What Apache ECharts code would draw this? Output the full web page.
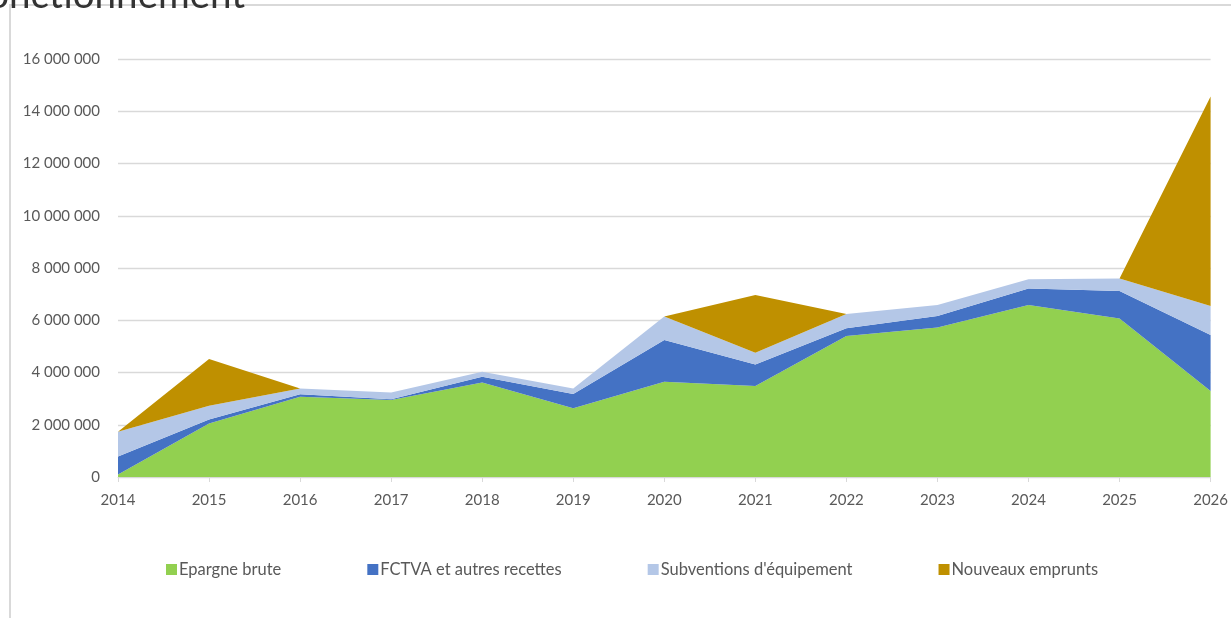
<!DOCTYPE html>
<html>
<head>
<meta charset="utf-8">
<script src="https://cdn.jsdelivr.net/npm/echarts@6/dist/echarts.min.js"></script>
<style>
html,body{margin:0;padding:0;background:#fff;}
#chart{width:1231px;height:618px;}
</style>
</head>
<body>
<div id="chart"></div>
<script>
var years = ['2014','2015','2016','2017','2018','2019','2020','2021','2022','2023','2024','2025','2026'];
var epargneBrute = [100000, 2050000, 3070000, 2950000, 3620000, 2630000, 3650000, 3480000, 5400000, 5720000, 6580000, 6070000, 3290000];
var fctva = [680000, 150000, 100000, 30000, 220000, 550000, 1590000, 830000, 290000, 440000, 640000, 1050000, 2150000];
var subventions = [950000, 530000, 220000, 250000, 190000, 210000, 900000, 450000, 550000, 420000, 350000, 480000, 1110000];
var emprunts = [0, 1790000, 0, 0, 0, 0, 0, 2210000, 0, 0, 0, 0, 8010000];
var seriesNames = ['Epargne brute', 'FCTVA et autres recettes', "Subventions d'équipement", 'Nouveaux emprunts'];
var yTicks = {min: 0, max: 16000000, interval: 2000000};

var colors = ['#92D050', '#4472C4', '#B4C7E7', '#BF9000'];
var font = 'Lato, "Open Sans", sans-serif';

function fmt(v){ return String(v).replace(/\B(?=(\d{3})+(?!\d))/g, ' '); }

function mk(name, data, i){
  return {
    name: name, type: 'line', stack: 'total', data: data,
    symbol: 'none', showSymbol: false,
    lineStyle: {width: 0},
    areaStyle: {color: colors[i], opacity: 1},
    itemStyle: {color: colors[i]},
    z: 2
  };
}

var chart = echarts.init(document.getElementById('chart'));
chart.setOption({
  animation: false,
  backgroundColor: '#fff',
  grid: {left: 118, right: 18, top: 59, bottom: 141, containLabel: false},
  legend: {
    data: seriesNames,
    left: 161, top: 556,
    icon: 'rect', itemWidth: 11, itemHeight: 11, itemGap: 86,
    textStyle: {color: '#595959', fontSize: 16.5, fontFamily: font, padding: [0,0,0,-3]}
  },
  xAxis: {
    type: 'category', data: years, boundaryGap: false,
    axisLine: {lineStyle: {color: '#d9d9d9', width: 1}},
    axisTick: {show: true, length: 5, lineStyle: {color: '#d9d9d9'}},
    axisLabel: {color: '#595959', fontSize: 15, fontFamily: font, margin: 16},
    splitLine: {show: false}
  },
  yAxis: {
    type: 'value', min: yTicks.min, max: yTicks.max, interval: yTicks.interval,
    axisLine: {show: false}, axisTick: {show: false},
    axisLabel: {color: '#595959', fontSize: 15, fontFamily: font, margin: 18, formatter: fmt},
    splitLine: {lineStyle: {color: '#d9d9d9', width: 1.3}}
  },
  graphic: [
    {type: 'rect', shape: {x: 10, y: 5, width: 1400, height: 800}, style: {fill: 'none', stroke: '#d9d9d9', lineWidth: 2}, z: 0, silent: true},
    {type: 'text', left: -33, top: -24, style: {text: 'Fonctionnement', fill: '#333333', font: '38.6px ' + font}, z: 10}
  ],
  series: [
    mk(seriesNames[0], epargneBrute, 0),
    mk(seriesNames[1], fctva, 1),
    mk(seriesNames[2], subventions, 2),
    mk(seriesNames[3], emprunts, 3)
  ]
});
</script>
</body>
</html>
